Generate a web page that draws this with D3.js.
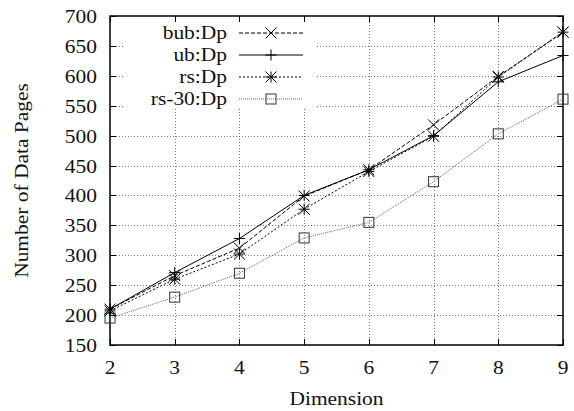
<!DOCTYPE html>
<html>
<head>
<meta charset="utf-8">
<script src="https://cdn.jsdelivr.net/npm/d3@7"></script>
<style>
  html, body { margin: 0; padding: 0; background: #fff; }
  svg text { font-family: "Liberation Serif", "Times New Roman", serif; fill: #111; }
</style>
</head>
<body>
<svg id="chart" width="574" height="411"></svg>
<script>
// Dimensions on the x axis
const dimensions = [2, 3, 4, 5, 6, 7, 8, 9];

// Number of data pages per method
const bubDp  = [210, 266, 312, 399, 443, 518, 599, 673];
const ubDp   = [210, 271, 328, 400, 443, 500, 590, 634];
const rsDp   = [207, 260, 302, 377, 440, 499, 598, 673];
const rs30Dp = [195, 230, 270, 329, 355, 423, 503, 561];

const yTicks = [150, 200, 250, 300, 350, 400, 450, 500, 550, 600, 650, 700];

const seriesNames = ["bub:Dp", "ub:Dp", "rs:Dp", "rs-30:Dp"];
const seriesValues = [bubDp, ubDp, rsDp, rs30Dp];

const styles = [
  { dash: "4,2", color: "#000", markColor: "#000", marker: "x" },
  { dash: null,  color: "#000", markColor: "#000", marker: "plus" },
  { dash: "2,2", color: "#000", markColor: "#000", marker: "star" },
  { dash: "1,1", color: "#666", markColor: "#333", marker: "square" }
];

const svg = d3.select("#chart");
const plotL = 110, plotR = 563, plotT = 16, plotB = 345;

const x = d3.scaleLinear().domain([2, 9]).range([plotL, plotR]);
const y = d3.scaleLinear().domain([150, 700]).range([plotB, plotT]);

const fontSize = 18.5, stretch = 1.16;

// Grid lines
const grid = svg.append("g").attr("stroke", "#7a7a7a").attr("stroke-width", 1)
  .attr("stroke-dasharray", "1,2");
yTicks.slice(1, -1).forEach(v => {
  grid.append("line").attr("x1", plotL).attr("x2", plotR)
    .attr("y1", Math.round(y(v)) + 0.5).attr("y2", Math.round(y(v)) + 0.5);
});
dimensions.slice(1, -1).forEach(d => {
  grid.append("line").attr("y1", plotT).attr("y2", plotB)
    .attr("x1", Math.round(x(d)) + 0.5).attr("x2", Math.round(x(d)) + 0.5);
});

// Key background hides grid beneath it
svg.append("rect").attr("x", 123).attr("y", plotT + 1).attr("width", 192).attr("height", 92)
  .attr("fill", "#fff");

// Tick marks on all four sides (inward)
const ticks = svg.append("g").attr("stroke", "#000").attr("stroke-width", 1);
yTicks.forEach(v => {
  const yy = Math.round(y(v)) + 0.5;
  ticks.append("line").attr("x1", plotL).attr("x2", plotL + 6).attr("y1", yy).attr("y2", yy);
  ticks.append("line").attr("x1", plotR - 6).attr("x2", plotR).attr("y1", yy).attr("y2", yy);
});
dimensions.forEach(d => {
  const xx = Math.round(x(d)) + 0.5;
  ticks.append("line").attr("y1", plotB).attr("y2", plotB - 6).attr("x1", xx).attr("x2", xx);
  ticks.append("line").attr("y1", plotT).attr("y2", plotT + 6).attr("x1", xx).attr("x2", xx);
});

// Border
svg.append("rect").attr("x", plotL).attr("y", plotT)
  .attr("width", plotR - plotL).attr("height", plotB - plotT)
  .attr("fill", "none").attr("stroke", "#000").attr("stroke-width", 1.5);

// Helper for horizontally widened text
function label(x0, y0, txt, anchor) {
  return svg.append("text")
    .attr("transform", `translate(${x0},${y0}) scale(${stretch},1)`)
    .attr("text-anchor", anchor)
    .attr("font-size", fontSize)
    .text(txt);
}

// Tick labels
yTicks.forEach(v => label(97, y(v) + 7, v, "end"));
dimensions.forEach(d => label(x(d), 374, d, "middle"));

// Axis titles
label((plotL + plotR) / 2, 405, "Dimension", "middle");
svg.append("text")
  .attr("transform", `translate(28,${(plotT + plotB) / 2}) rotate(-90) scale(${stretch},1)`)
  .attr("text-anchor", "middle").attr("font-size", fontSize)
  .text("Number of Data Pages");

// Marker drawing
function drawMarker(g, type, cx, cy, color) {
  const s = 5.5;
  const m = g.append("g").attr("stroke", color).attr("stroke-width", 1).attr("fill", "none");
  if (type === "x" || type === "star") {
    m.append("line").attr("x1", cx - s).attr("y1", cy - s).attr("x2", cx + s).attr("y2", cy + s);
    m.append("line").attr("x1", cx - s).attr("y1", cy + s).attr("x2", cx + s).attr("y2", cy - s);
  }
  if (type === "plus" || type === "star") {
    m.append("line").attr("x1", cx - s).attr("y1", cy).attr("x2", cx + s).attr("y2", cy);
    m.append("line").attr("x1", cx).attr("y1", cy - s).attr("x2", cx).attr("y2", cy + s);
  }
  if (type === "square") {
    m.append("rect").attr("x", cx - 5).attr("y", cy - 5).attr("width", 10).attr("height", 10);
  }
}

const line = d3.line().x((d, i) => x(dimensions[i])).y(d => y(d));

// Series, drawn back to front
[3, 2, 1, 0].forEach(k => {
  const st = styles[k];
  const g = svg.append("g");
  g.append("path").datum(seriesValues[k]).attr("d", line)
    .attr("fill", "none").attr("stroke", st.color).attr("stroke-width", 1)
    .attr("stroke-dasharray", st.dash);
  seriesValues[k].forEach((v, i) => drawMarker(g, st.marker, x(dimensions[i]), y(v), st.markColor));
});

// Key
seriesNames.forEach((name, k) => {
  const st = styles[k];
  const yy = 33 + k * 22;
  label(227, yy + 6, name, "end");
  const g = svg.append("g");
  g.append("line").attr("x1", 239).attr("x2", 303).attr("y1", yy).attr("y2", yy)
    .attr("stroke", st.color).attr("stroke-width", 1).attr("stroke-dasharray", st.dash);
  drawMarker(g, st.marker, 271, yy, st.markColor);
});
</script>
</body>
</html>
